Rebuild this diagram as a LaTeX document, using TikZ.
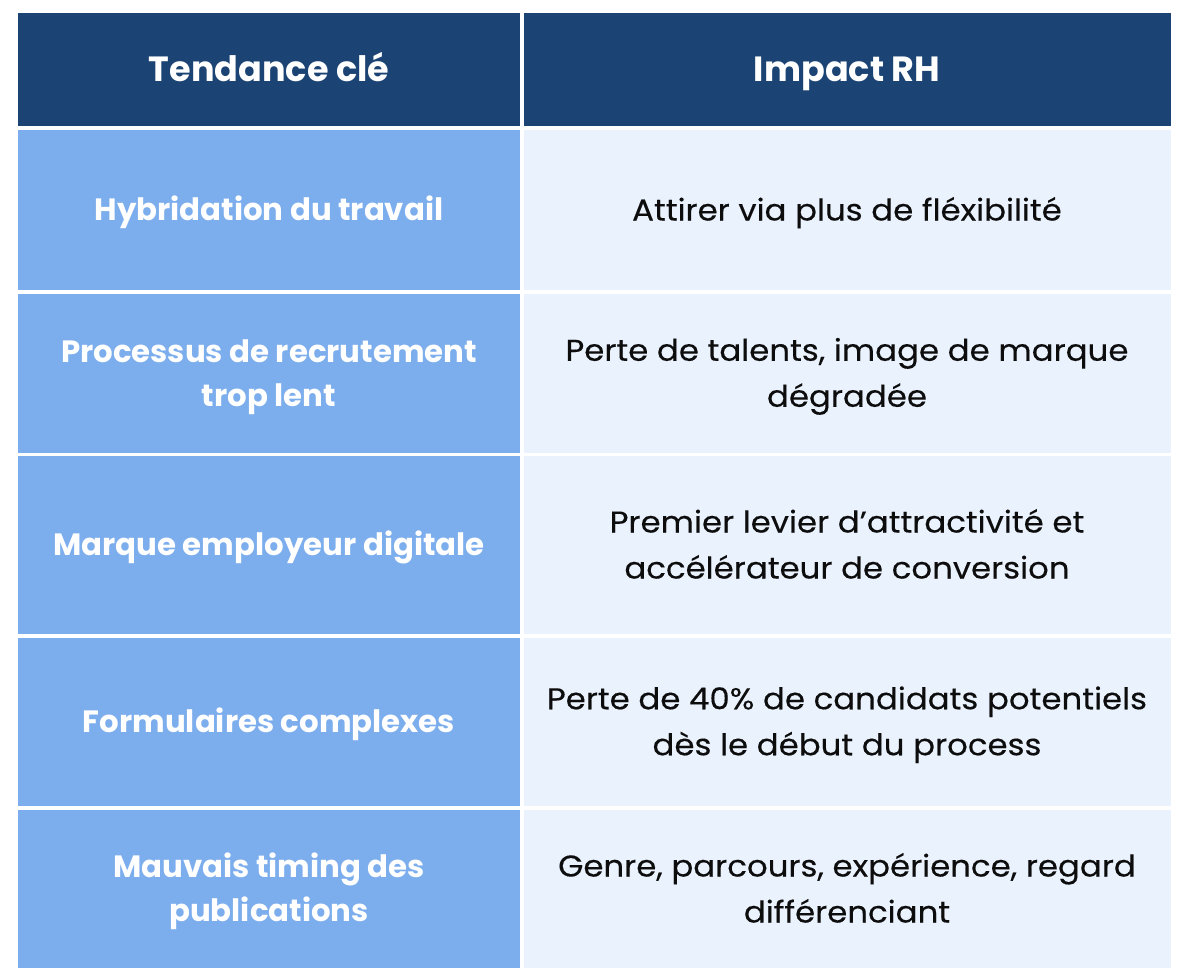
\documentclass[tikz,border=0pt]{standalone}
\usepackage{fontspec}
\setmainfont{Poppins}
\newfontfamily\rightfont[FakeStretch=1.08,FakeBold=0.3]{Poppins}
\definecolor{hdr}{HTML}{1B4373}
\definecolor{lft}{HTML}{7CADED}
\definecolor{rgt}{HTML}{EAF2FE}
\newcommand\tsrt{\rule{0pt}{1em}}
\newcommand\bsrt{\rule[-0.3em]{0pt}{0.3em}}
\begin{document}
\begin{tikzpicture}[x=1pt,y=-1pt,
  cellbase/.style={inner sep=0pt, outer sep=0pt, align=center, anchor=center},
  hcell/.style={cellbase, fill=hdr, text=white, font=\fontsize{35}{42}\selectfont\bfseries},
  lcell/.style={cellbase, fill=lft, text=white, minimum width=502pt, font=\fontsize{30.8}{44}\selectfont\bfseries},
  rcell/.style={cellbase, fill=rgt, text=black!95, minimum width=647pt, font=\rightfont\fontsize{30}{46}\selectfont}]
\useasboundingbox (0,0) rectangle (1187,980);
\fill[white] (0,0) rectangle (1187,980);
% header
\node[hcell, minimum width=502pt, minimum height=113pt] (h1) at (269,69.5) {\tsrt Tendance clé\bsrt};
\node[hcell, minimum width=647pt, minimum height=113pt] (h2) at (847,69.5) {\tsrt Impact RH\bsrt};
% rows
\node[lcell, minimum height=160pt] (l1) at (269,210) {\tsrt Hybridation du travail\bsrt};
\node[rcell, minimum height=160pt] (r1) at (847,210) {\tsrt Attirer via plus de fléxibilité\bsrt};
\node[lcell, minimum height=158.5pt] (l2) at (269,373.25) {\tsrt Processus de recrutement\\trop lent\bsrt};
\node[rcell, minimum height=158.5pt] (r2) at (847,373.25) {\tsrt Perte de talents, image de marque\\dégradée\bsrt};
\node[lcell, minimum height=178pt] (l3) at (269,545) {\tsrt Marque employeur digitale\bsrt};
\node[rcell, minimum height=178pt] (r3) at (847,545) {\tsrt Premier levier d’attractivité et\\accélérateur de conversion\bsrt};
\node[lcell, minimum height=168.5pt] (l4) at (269,721.75) {\tsrt Formulaires complexes\bsrt};
\node[rcell, minimum height=168.5pt] (r4) at (847,721.75) {\tsrt Perte de 40\% de candidats potentiels\\dès le début du process\bsrt};
\node[lcell, minimum height=158pt] (l5) at (269,889) {\tsrt Mauvais timing des\\publications\bsrt};
\node[rcell, minimum height=158pt] (r5) at (847,889) {\tsrt Genre, parcours, expérience, regard\\différenciant\bsrt};
\end{tikzpicture}
\end{document}
